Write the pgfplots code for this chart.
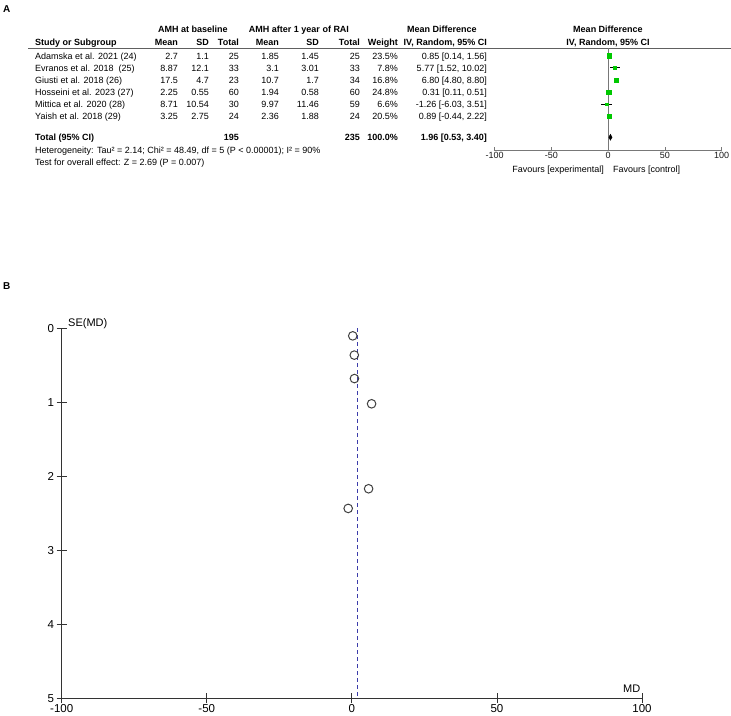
\documentclass[border=0pt]{standalone}
\usepackage{pgfplots}
\pgfplotsset{compat=1.18}
\usepackage{fontspec}
\setmainfont{Liberation Sans}
\definecolor{rmgreen}{RGB}{0,200,0}
\definecolor{fgray}{RGB}{120,120,120}
\definecolor{dashblue}{RGB}{60,60,170}
\newcommand\tf{\fontsize{9}{10.5}\selectfont}
\newcommand\row[9]{%
  \node[anchor=base west] at (35pt,-#1pt) {\tf #2};
  \foreach \xx/\tt in {178/#3,209/#4,239/#5,279/#6,319/#7,360/#8}{\node[anchor=base east] at (\xx pt,-#1pt) {\tf \tt};}
  \node[anchor=base east] at (398pt,-#1pt) {\tf #9};
}
\begin{document}
\begin{tikzpicture}
\useasboundingbox (0,0) rectangle (731pt,-715pt);
\begin{scope}[every node/.style={inner sep=0pt}]
\node[anchor=base west] at (3pt,-12pt) {\fontsize{10}{12}\selectfont\bfseries A};
\node[anchor=base west] at (3pt,-289pt) {\fontsize{10}{12}\selectfont\bfseries B};
% headers
\node[anchor=base] at (193pt,-32pt) {\tf\bfseries AMH at baseline};
\node[anchor=base] at (299pt,-32pt) {\tf\bfseries AMH after 1 year of RAI};
\node[anchor=base] at (442pt,-32pt) {\tf\bfseries Mean Difference};
\node[anchor=base] at (608pt,-32pt) {\tf\bfseries Mean Difference};
\node[anchor=base west] at (35pt,-45pt) {\tf\bfseries Study or Subgroup};
\foreach \xx/\tt in {178/Mean,209/SD,239/Total,279/Mean,319/SD,360/Total,398/Weight,487/{IV, Random, 95\% CI}}{\node[anchor=base east] at (\xx pt,-45pt) {\tf\bfseries \tt};}
\node[anchor=base] at (608pt,-45pt) {\tf\bfseries IV, Random, 95\% CI};
% rows
\row{59}{Adamska et al. 2021 (24)}{2.7}{1.1}{25}{1.85}{1.45}{25}{23.5\%}
\row{71}{Evranos et al. 2018 \ (25)}{8.87}{12.1}{33}{3.1}{3.01}{33}{7.8\%}
\row{83.3}{Giusti et al. 2018 (26)}{17.5}{4.7}{23}{10.7}{1.7}{34}{16.8\%}
\row{95.3}{Hosseini et al. 2023 (27)}{2.25}{0.55}{60}{1.94}{0.58}{60}{24.8\%}
\row{107.3}{Mittica et al. 2020 (28)}{8.71}{10.54}{30}{9.97}{11.46}{59}{6.6\%}
\row{119.6}{Yaish et al. 2018 (29)}{3.25}{2.75}{24}{2.36}{1.88}{24}{20.5\%}
\foreach \yy/\tt in {59/{0.85 [0.14, 1.56]},71/{5.77 [1.52, 10.02]},83.3/{6.80 [4.80, 8.80]},95.3/{0.31 [0.11, 0.51]},107.3/{-1.26 [-6.03, 3.51]},119.6/{0.89 [-0.44, 2.22]}}{\node[anchor=base east] at (487pt,-\yy pt) {\tf \tt};}
\node[anchor=base west] at (35pt,-140.6pt) {\tf\bfseries Total (95\% CI)};
\node[anchor=base east] at (239pt,-140.6pt) {\tf\bfseries 195};
\node[anchor=base east] at (360pt,-140.6pt) {\tf\bfseries 235};
\node[anchor=base east] at (398pt,-140.6pt) {\tf\bfseries 100.0\%};
\node[anchor=base east] at (487pt,-140.6pt) {\tf\bfseries 1.96 [0.53, 3.40]};
\node[anchor=base west] at (35pt,-153.5pt) {\tf Heterogeneity: Tau² = 2.14; Chi² = 48.49, df = 5 (P < 0.00001); I² = 90\%};
\node[anchor=base west] at (35pt,-165.5pt) {\tf Test for overall effect: Z = 2.69 (P = 0.007)};
\node[anchor=base east] at (604pt,-172.5pt) {\tf Favours [experimental]};
\node[anchor=base west] at (613pt,-172.5pt) {\tf Favours [control]};
\node[anchor=base west] at (68pt,-326pt) {\fontsize{11}{13}\selectfont SE(MD)};
\node[anchor=base west] at (623pt,-692pt) {\fontsize{11}{13}\selectfont MD};
\end{scope}
\draw[fgray!80!black, line width=0.9pt] (28pt,-48.3pt) -- (731pt,-48.3pt);
% forest axis
\begin{axis}[at={(494.7pt,-150.7pt)}, anchor=south west, scale only axis,
  width=227pt, height=102.4pt, xmin=-100, xmax=100, ymin=0.39, ymax=8.84, y dir=reverse,
  axis x line=bottom, axis y line=none, axis line style={-, fgray, line width=1pt},
  xtick={-100,-50,0,50,100}, tick align=inside, major tick length=3.5pt,
  tick style={fgray, line width=0.8pt},
  /pgf/number format/assume math mode=true,
  xticklabel style={font=\fontsize{9}{10}\selectfont, text=black!90, inner sep=1.5pt},
  clip=false]
\addplot[fgray, line width=1pt] coordinates {(0,0.39) (0,8.84)};
\addplot[only marks, mark=square*, rmgreen, mark size=2.3pt, error bars/.cd, x dir=both, x explicit, error bar style={black, line width=0.7pt}, error mark=none] coordinates {(0.85,1) +- (0.71,0)};
\addplot[only marks, mark=square*, rmgreen, mark size=1.3pt, error bars/.cd, x dir=both, x explicit, error bar style={black, line width=0.7pt}, error mark=none] coordinates {(5.77,2) +- (4.25,0)};
\addplot[only marks, mark=square*, rmgreen, mark size=2pt, error bars/.cd, x dir=both, x explicit, error bar style={black, line width=0.7pt}, error mark=none] coordinates {(6.80,3) +- (2.00,0)};
\addplot[only marks, mark=square*, rmgreen, mark size=2.3pt, error bars/.cd, x dir=both, x explicit, error bar style={black, line width=0.7pt}, error mark=none] coordinates {(0.31,4) +- (0.20,0)};
\addplot[only marks, mark=square*, rmgreen, mark size=1.2pt, error bars/.cd, x dir=both, x explicit, error bar style={black, line width=0.7pt}, error mark=none] coordinates {(-1.26,5) +- (4.77,0)};
\addplot[only marks, mark=square*, rmgreen, mark size=2.1pt, error bars/.cd, x dir=both, x explicit, error bar style={black, line width=0.7pt}, error mark=none] coordinates {(0.89,6) +- (1.33,0)};
\addplot[fill=black, draw=black] coordinates {(0.53,7.73) (1.96,7.48) (3.40,7.73) (1.96,7.98)} -- cycle;
\end{axis}
% funnel plot
\begin{axis}[at={(61.7pt,-698.3pt)}, anchor=south west, scale only axis,
  width=580.3pt, height=370pt, xmin=-100, xmax=100, ymin=0, ymax=5, y dir=reverse,
  axis x line=bottom, axis y line=left, axis line style={-, black!80, line width=1pt},
  xtick={-100,-50,0,50,100}, ytick={0,1,2,3,4,5}, tick align=center, major tick length=10pt,
  tick style={black!80, line width=0.8pt},
  /pgf/number format/assume math mode=true,
  ticklabel style={font=\fontsize{11.5}{13}\selectfont},
  xticklabel style={inner sep=0.5pt, yshift=-0.5pt}, yticklabel style={inner sep=2.5pt},
  clip=false]
\addplot[dashblue, line width=0.9pt, dash pattern=on 4pt off 3pt] coordinates {(1.96,0) (1.96,5)};
\addplot[only marks, mark=o, mark size=4.3pt, black!75, mark options={line width=1pt}] coordinates {(0.85,0.362) (5.77,2.168) (6.80,1.020) (0.31,0.102) (-1.26,2.434) (0.89,0.679)};
\end{axis}
\end{tikzpicture}
\end{document}
